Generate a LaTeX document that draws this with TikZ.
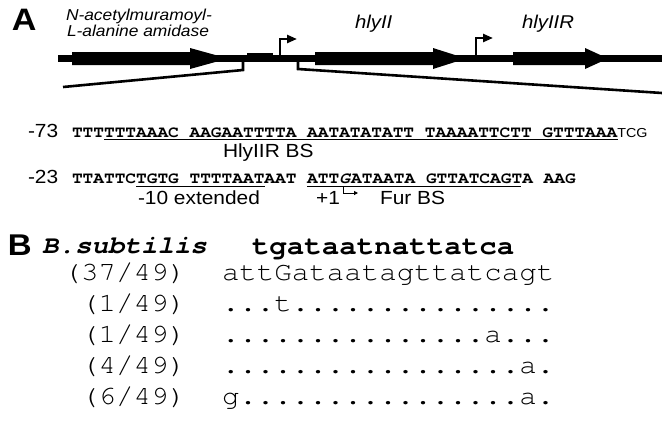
\documentclass[tikz,border=0pt]{standalone}
\usepackage{fontspec}
\usepackage{graphicx}
\setmainfont{Liberation Sans}
\newfontfamily\cour{texgyrecursor}[Extension=.otf, UprightFont=*-regular, BoldFont=*-bold, ItalicFont=*-italic, BoldItalicFont=*-bolditalic]
\usetikzlibrary{arrows.meta}

\newcommand{\fsz}[1]{\fontsize{#1}{#1}\selectfont}
\newcommand{\wider}[1]{\scalebox{1.1}[1]{#1}}

\tikzset{
  txt/.style={inner sep=0pt, outer sep=0pt, anchor=base west},
  txtr/.style={inner sep=0pt, outer sep=0pt, anchor=base east},
  backbone/.style={line width=6.5pt},
  zoomline/.style={line width=2.6pt, line join=miter},
  promoter/.style={line width=2.4pt, line join=miter, -{Triangle[length=10pt,width=8pt]}},
  uline/.style={line width=1.3pt},
  tss/.style={line width=1pt, -{Triangle[length=4pt,width=4pt]}},
}

% gene arrow: start x, head start x, tip x
\newcommand{\genearrow}[3]{%
  \fill (#1,52) -- (#2,52) -- (#2,48) -- (#3,58.5) -- (#2,69) -- (#2,65) -- (#1,65) -- cycle;}
% alignment row: name, y, count, sequence
\newcommand{\alnrow}[4]{%
  \node[txtr] (c#1) at (186,#2) {\wider{\fsz{26.5}\cour #3}};
  \node[txt] (#1) at (222,#2) {\wider{\fsz{26.5}\cour #4}};}

\begin{document}
\begin{tikzpicture}[x=1pt,y=-1pt]
\useasboundingbox (0,0) rectangle (662,424);

% ---------------- panel A: locus map ----------------
\node[txt] (labA) at (12,30) {\wider{\fsz{31}\bfseries A}};
\node[txt] (g1a) at (66,20) {\wider{\fsz{15.8}\itshape N-acetylmuramoyl-}};
\node[txt] (g1b) at (67,36) {\wider{\fsz{15.8}\itshape L-alanine amidase}};
\node[txt] (g2) at (355,28) {\wider{\fsz{18.5}\itshape hlyII}};
\node[txt] (g3) at (522,28) {\wider{\fsz{18.5}\itshape hlyIIR}};

\draw[backbone] (58,58.5) -- (662,58.5);
\genearrow{72}{190}{228}
\genearrow{315}{433}{466}
\genearrow{513}{585}{608}
\fill (247,53) rectangle (273,62);

\draw[promoter] (280,58) |- (297,39);
\draw[promoter] (476,58) |- (493,38);

\coordinate (zl) at (63,87);
\coordinate (zr) at (662,93);
\draw[zoomline] (243,61) -- (243,70) -- (zl);
\draw[zoomline] (298,61) -- (298,69) -- (zr);

% ---------------- promoter sequence ----------------
\node[txt] (m73) at (28,137) {\wider{\fsz{19}-73}};
\node[txt] (s73) at (72,137) {\wider{\fsz{16.2}\cour\bfseries TTTTTTAAAC AAGAATTTTA AATATATATT TAAAATTCTT GTTTAAA}};
\node[txt] (tcg) at (s73.base east) {\wider{\fsz{13}TCG}};
\draw[uline] (104.1,139.5) -- (618,139.5);
\node[txt] (bs1) at (223,157) {\wider{\fsz{19}HlyIIR BS}};

\node[txt] (m23) at (28,183) {\wider{\fsz{19}-23}};
\node[txt] (s23) at (72,183) {\wider{\fsz{16.2}\cour\bfseries TTATTCTGTG TTTTAATAAT ATT\textit{G}ATAATA GTTATCAGTA AAG}};
\draw[uline] (136.2,186.5) -- (264.6,186.5);
\draw[uline] (307.4,186.5) -- (521.4,186.5);
\draw[tss] (343,186.5) |- (358,193);
\node[txt] (ext) at (138,204) {\wider{\fsz{19}-10 extended}};
\node[txtr] (p1) at (340,204) {\wider{\fsz{19}+1}};
\node[txt] (fur) at (380,204) {\wider{\fsz{19}Fur BS}};

% ---------------- panel B: Fur box alignment ----------------
\node[txt] (labB) at (8,255) {\wider{\fsz{30}\bfseries B}};
\node[txt] (bsu) at (42,253) {\wider{\fsz{25}\cour\bfseries\itshape B.subtilis}};
\node[txt] (cons) at (252,254) {\wider{\fsz{26.5}\cour\bfseries tgataatnattatca}};

\alnrow{r1}{280.5}{(37/49)}{attGataatagttatcagt}
\alnrow{r2}{311.5}{(1/49)}{...t...............}
\alnrow{r3}{342.5}{(1/49)}{...............a...}
\alnrow{r4}{373.5}{(4/49)}{.................a.}
\alnrow{r5}{404.5}{(6/49)}{g................a.}
\end{tikzpicture}
\end{document}
